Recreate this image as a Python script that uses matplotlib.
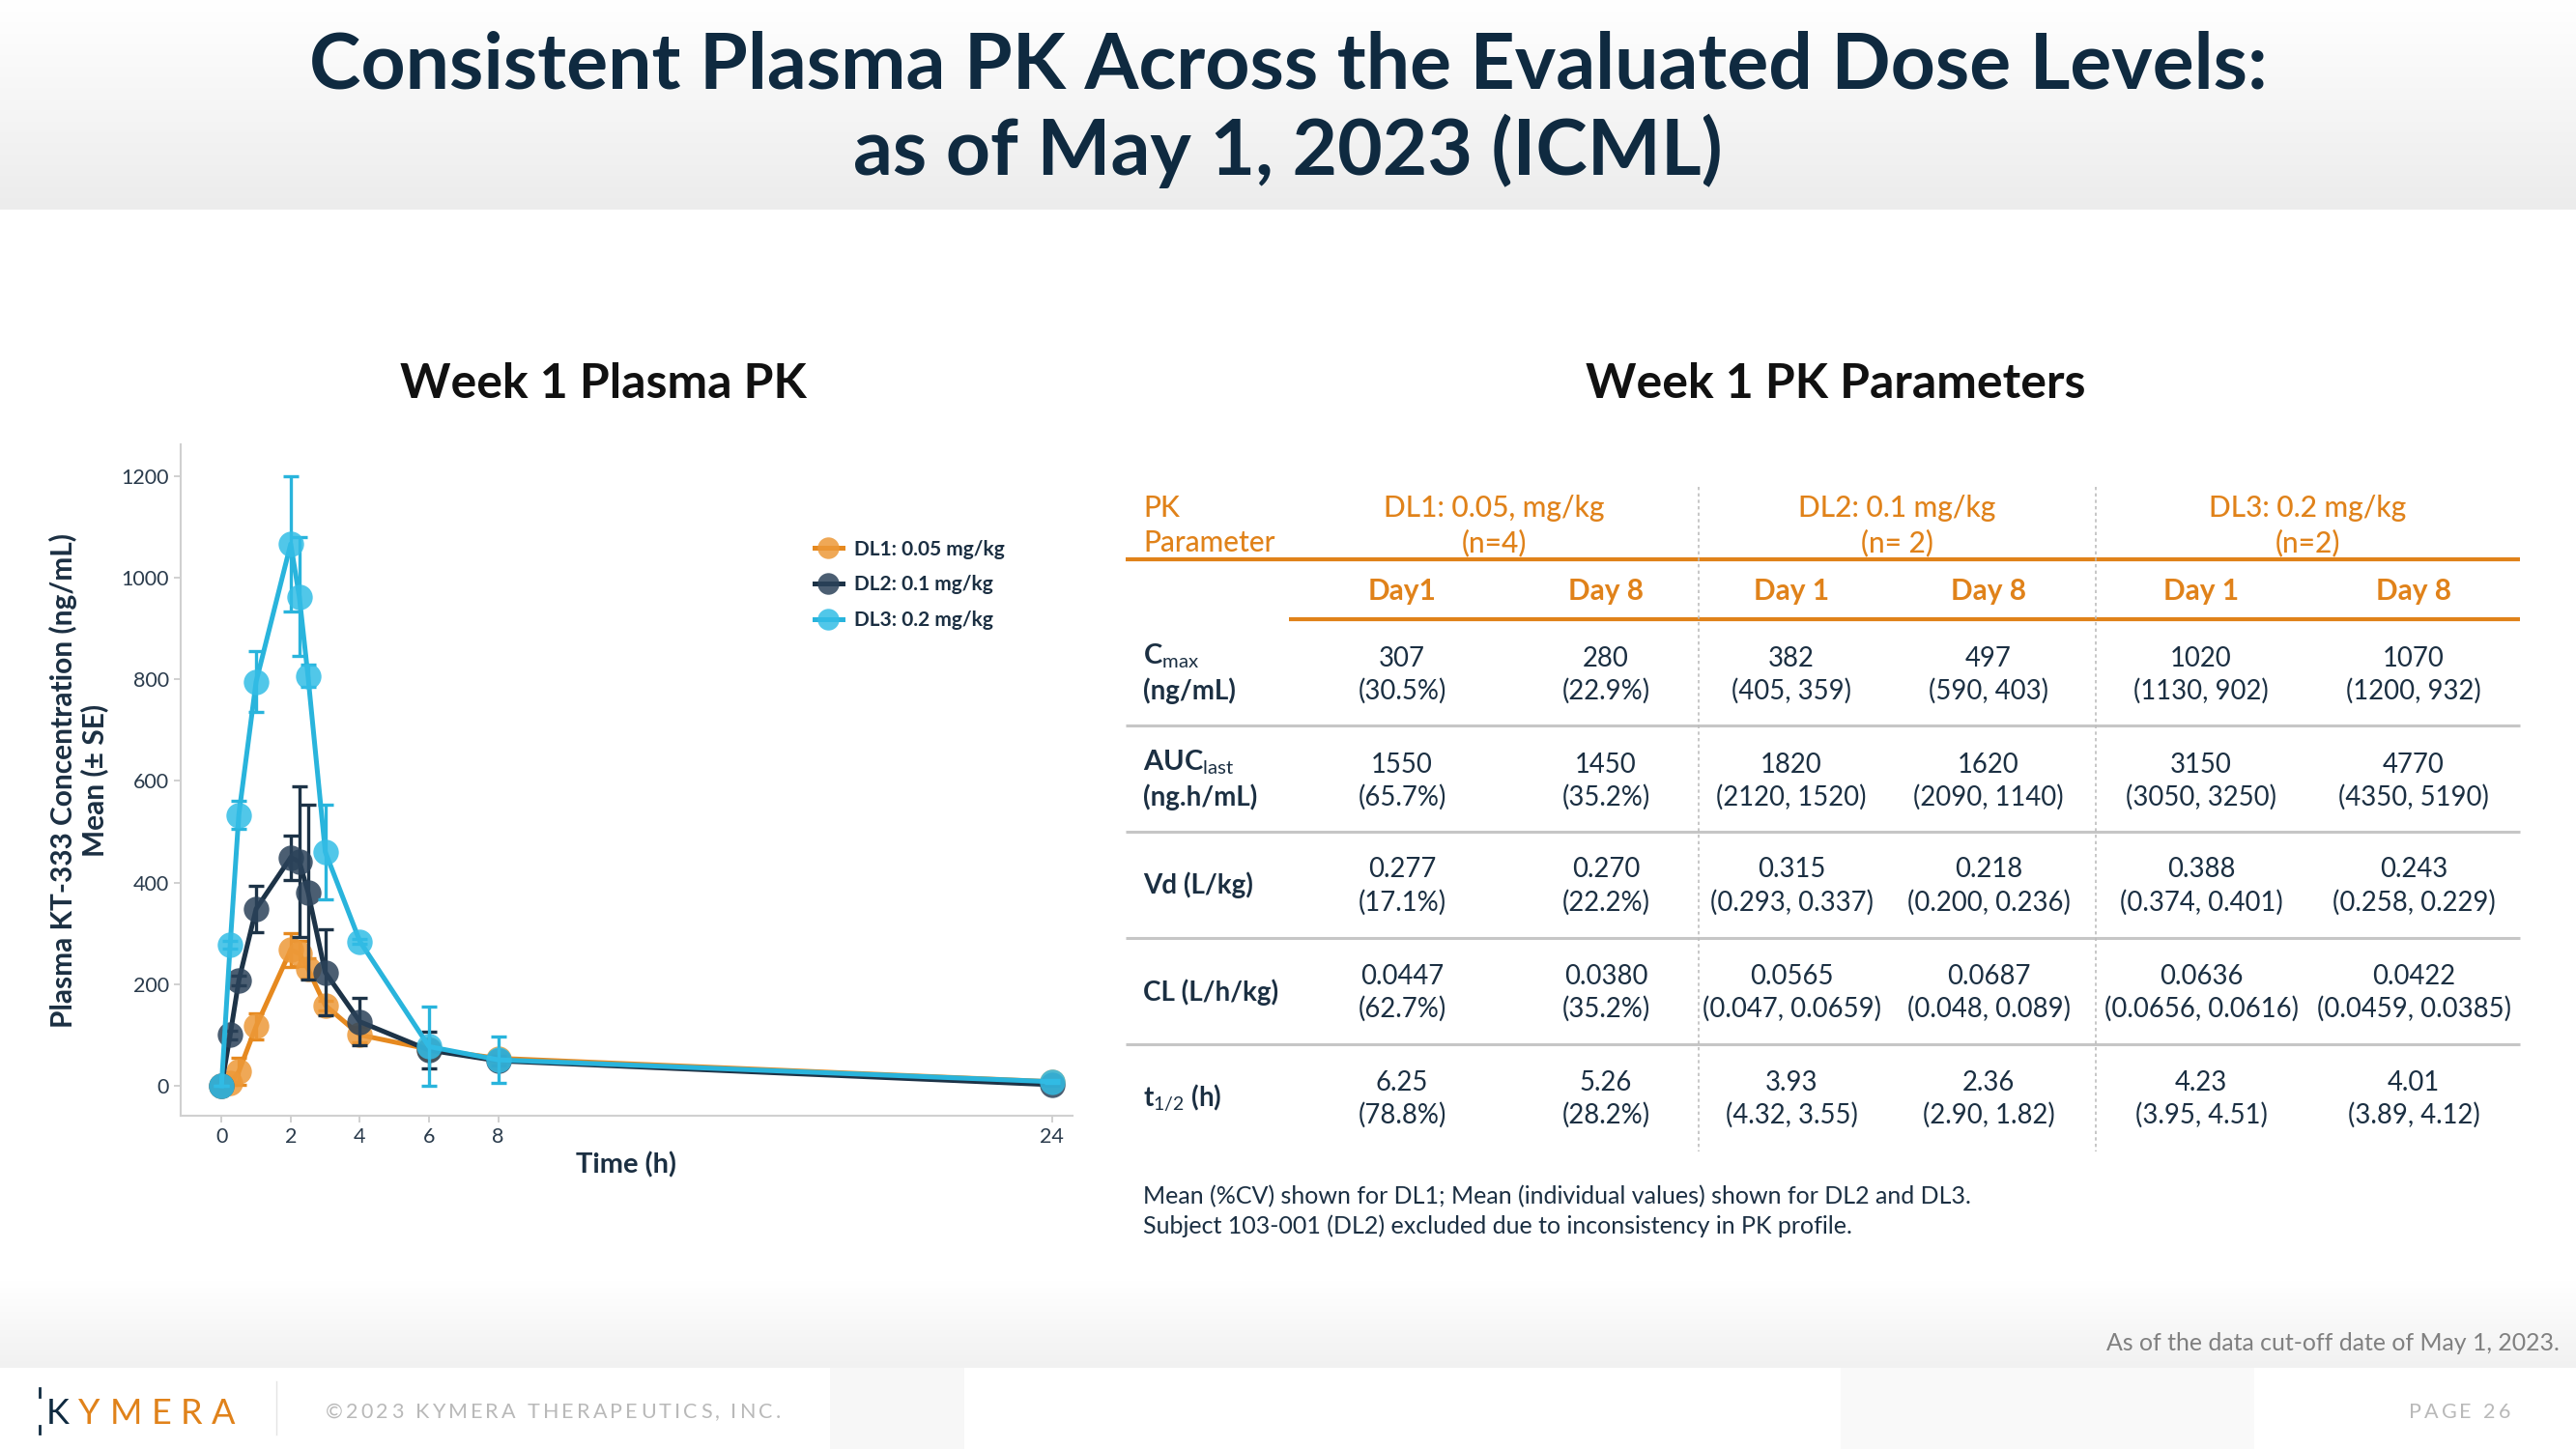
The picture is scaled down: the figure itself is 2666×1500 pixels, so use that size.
import matplotlib
matplotlib.use("Agg")
import matplotlib.pyplot as plt
import numpy as np
from matplotlib.colors import LinearSegmentedColormap
from matplotlib.textpath import TextToPath
from matplotlib.font_manager import FontProperties

plt.rcParams['font.family'] = ['Lato', 'DejaVu Sans']
plt.rcParams['mathtext.fontset'] = 'custom'
plt.rcParams['mathtext.rm'] = 'Lato'
plt.rcParams['mathtext.bf'] = 'Lato:bold'
plt.rcParams['mathtext.it'] = 'Lato:italic'

# ---- chart data ----
times = [0, 0.25, 0.5, 1, 2, 2.25, 2.5, 3, 4, 6, 8, 24]
dl1_mean = [0, 5, 28, 117, 267, 260, 230, 158, 100, 72, 54, 8]
dl1_se = [0, 3, 27, 26, 34, 25, 20, 10, 15, 8, 8, 2]
dl2_mean = [0, 100, 207, 348, 449, 441, 381, 223, 126, 70, 49, 2]
dl2_se = [0, 8, 10, 45, 44, 148, 172, 84, 46, 36, 10, 2]
dl3_mean = [0, 277, 533, 795, 1066, 962, 806, 460, 284, 77, 51, 8]
dl3_se = [0, 8, 28, 60, 133, 117, 22, 93, 5, 78, 46, 3]
series_labels = ['DL1: 0.05 mg/kg', 'DL2: 0.1 mg/kg', 'DL3: 0.2 mg/kg']
x_ticks = [0, 2, 4, 6, 8, 24]
y_ticks = [0, 200, 400, 600, 800, 1000, 1200]

# ---- table data ----
group_names = ['DL1: 0.05, mg/kg', 'DL2: 0.1 mg/kg', 'DL3: 0.2 mg/kg']
group_ns = ['(n=4)', '(n= 2)', '(n=2)']
day_names = ['Day1', 'Day 8', 'Day 1', 'Day 8', 'Day 1', 'Day 8']
param_names = [
    [r'$\mathbf{C}_{\mathrm{max}}$', '(ng/mL)'],
    [r'$\mathbf{AUC}_{\mathrm{last}}$', '(ng.h/mL)'],
    ['Vd (L/kg)'],
    ['CL (L/h/kg)'],
    [r'$\mathbf{t}_{\mathrm{1/2}}$ (h)'],
]
mean_vals = [
    ['307', '280', '382', '497', '1020', '1070'],
    ['1550', '1450', '1820', '1620', '3150', '4770'],
    ['0.277', '0.270', '0.315', '0.218', '0.388', '0.243'],
    ['0.0447', '0.0380', '0.0565', '0.0687', '0.0636', '0.0422'],
    ['6.25', '5.26', '3.93', '2.36', '4.23', '4.01'],
]
spread_vals = [
    ['(30.5%)', '(22.9%)', '(405, 359)', '(590, 403)', '(1130, 902)', '(1200, 932)'],
    ['(65.7%)', '(35.2%)', '(2120, 1520)', '(2090, 1140)', '(3050, 3250)', '(4350, 5190)'],
    ['(17.1%)', '(22.2%)', '(0.293, 0.337)', '(0.200, 0.236)', '(0.374, 0.401)', '(0.258, 0.229)'],
    ['(62.7%)', '(35.2%)', '(0.047, 0.0659)', '(0.048, 0.089)', '(0.0656, 0.0616)', '(0.0459, 0.0385)'],
    ['(78.8%)', '(28.2%)', '(4.32, 3.55)', '(2.90, 1.82)', '(3.95, 4.51)', '(3.89, 4.12)'],
]
footnotes = ['Mean (%CV) shown for DL1; Mean (individual values) shown for DL2 and DL3.',
             'Subject 103-001 (DL2) excluded due to inconsistency in PK profile.']

NAVY = '#0f2a40'
TXT = '#1b2f42'
ORANGE = '#e0821a'
COLORS = ['#e6891f', '#1d3347', '#29b4dc']
MCOLORS = [(0.93, 0.6, 0.22, 0.85), (0.17, 0.26, 0.35, 0.85), (0.2, 0.74, 0.9, 0.85)]

W, H = 2666, 1500
fig = plt.figure(figsize=(W / 100, H / 100), dpi=100)

# background / overlay axes in pixel coordinates
bg = fig.add_axes([0, 0, 1, 1], zorder=0)
grad = np.linspace(0, 1, 256).reshape(-1, 1)
bg.imshow(grad, extent=[0, W, 217, 0], aspect='auto',
          cmap=LinearSegmentedColormap.from_list('t', ['#ffffff', '#ececec']))
bg.imshow(grad, extent=[0, W, 1416, 1326], aspect='auto',
          cmap=LinearSegmentedColormap.from_list('f', ['#ffffff', '#f1f1f1']))
bg.fill_between([859, 998], 1416, 1500, color='#f7f7f7', lw=0)
bg.fill_between([1905, 2333], 1416, 1500, color='#f9f9f9', lw=0)
bg.set_xlim(0, W)
bg.set_ylim(H, 0)
bg.axis('off')

# title
bg.text(W / 2, 68, 'Consistent Plasma PK Across the Evaluated Dose Levels:', ha='center',
        va='center', fontsize=58, fontweight='bold', color=NAVY)
bg.text(W / 2, 156, 'as of May 1, 2023 (ICML)', ha='center', va='center',
        fontsize=58, fontweight='bold', color=NAVY)

bg.text(624, 398, 'Week 1 Plasma PK', ha='center', va='center', fontsize=36,
        fontweight='bold', color='#111111')
bg.text(1900, 398, 'Week 1 PK Parameters', ha='center', va='center', fontsize=36,
        fontweight='bold', color='#111111')

# ---- chart ----
ax = fig.add_axes([187 / W, (H - 1155) / H, (1110 - 187) / W, (1155 - 460) / H], zorder=2)
ax.patch.set_alpha(0)
for i, (m, s) in enumerate([(dl1_mean, dl1_se), (dl2_mean, dl2_se), (dl3_mean, dl3_se)]):
    ax.errorbar(times, m, yerr=s, fmt='none', ecolor=COLORS[i], elinewidth=2.4,
                capsize=6, capthick=2.4, zorder=2 + i)
    ax.plot(times, m, '-o', color=COLORS[i], lw=3.6, ms=19, mfc=MCOLORS[i], mec='none',
            label=series_labels[i], zorder=2 + i)

ax.set_xlim(-1.18, 24.6)
ax.set_ylim(-59, 1262)
ax.set_xticks(x_ticks)
ax.set_yticks(y_ticks)
for sp in ['top', 'right']:
    ax.spines[sp].set_visible(False)
for sp in ['left', 'bottom']:
    ax.spines[sp].set_color('#d0d0d0')
    ax.spines[sp].set_linewidth(1.5)
ax.tick_params(color='#c8c8c8', length=5, width=1.2, labelsize=15.5)
for lab in ax.get_xticklabels() + ax.get_yticklabels():
    lab.set_color('#2a3b4c')
ax.set_xlabel('Time (h)', fontsize=21, fontweight='bold', color=TXT, labelpad=4)
ax.set_ylabel('Plasma KT-333 Concentration (ng/mL)\nMean (± SE)', fontsize=21.5,
              fontweight='bold', color=TXT, labelpad=10, linespacing=1.1)
ax.legend(loc='upper left', bbox_to_anchor=(824 / W, 1 - 540 / H),
          bbox_transform=fig.transFigure, frameon=False,
          prop={'weight': 'bold', 'size': 15}, handlelength=1.4, handletextpad=0.6,
          labelspacing=0.8, markerscale=0.85)
for t in ax.get_legend().get_texts():
    t.set_color(TXT)

# ---- table ----
col_x = [1451, 1662, 1854, 2058, 2278, 2498]
grp_x = [1546, 1963, 2388]
label_x = 1183
row_y1 = [682, 792, 900, 1011, 1121]
row_y2 = [715, 825, 934, 1044, 1154]
single_y = [916, 1027, 1137]
HDR = 21.5

bg.text(label_x, 526, 'PK', ha='left', va='center', fontsize=HDR, color=ORANGE, fontweight='medium')
bg.text(label_x, 562, 'Parameter', ha='left', va='center', fontsize=HDR, color=ORANGE,
        fontweight='medium')
for gx, gname, gn in zip(grp_x, group_names, group_ns):
    bg.text(gx, 526, gname, ha='center', va='center', fontsize=HDR, color=ORANGE, fontweight='medium')
    bg.text(gx, 562, gn, ha='center', va='center', fontsize=HDR, color=ORANGE, fontweight='medium')
for cx, d in zip(col_x, day_names):
    bg.text(cx, 612, d, ha='center', va='center', fontsize=HDR, color=ORANGE, fontweight='bold')

bg.plot([1165, 2608], [579, 579], color=ORANGE, lw=3, solid_capstyle='butt')
bg.plot([1334, 2608], [641, 641], color=ORANGE, lw=3, solid_capstyle='butt')
for gy in [751, 861, 971, 1081]:
    bg.plot([1165, 2608], [gy, gy], color='#c6c6c6', lw=2.2, solid_capstyle='butt')
for vx in [1758, 2169]:
    bg.plot([vx, vx], [504, 1192], color='#bdbdbd', lw=1.2, ls=(0, (2, 2)))

for r in range(len(mean_vals)):
    for c in range(6):
        bg.text(col_x[c], row_y1[r], mean_vals[r][c], ha='center', va='center',
                fontsize=19.8, color=TXT)
        bg.text(col_x[c], row_y2[r], spread_vals[r][c], ha='center', va='center',
                fontsize=19.8, color=TXT)
    names = param_names[r]
    if len(names) == 2:
        bg.text(label_x, row_y1[r] - 3, names[0], ha='left', va='center', fontsize=21,
                color=TXT, fontweight='bold')
        bg.text(label_x, row_y2[r], names[1], ha='left', va='center', fontsize=20,
                color=TXT, fontweight='bold')
    else:
        bg.text(label_x, single_y[r - 2], names[0], ha='left', va='center', fontsize=20,
                color=TXT, fontweight='bold')

bg.text(label_x, 1239, footnotes[0], ha='left', va='center', fontsize=18, color=TXT)
bg.text(label_x, 1269, footnotes[1], ha='left', va='center', fontsize=18, color=TXT)

# ---- footer ----
bg.text(2649, 1391, 'As of the data cut-off date of May 1, 2023.', ha='right', va='center',
        fontsize=17.9, color='#808080')


def spaced_text(x, y, s, size, spacing, color, ha='left', weight='normal'):
    prop = FontProperties(family=['Lato', 'DejaVu Sans'], size=size, weight=weight)
    t2p = TextToPath()
    widths = [t2p.get_text_width_height_descent(ch, prop, ismath=False)[0] * 100 / 72
              for ch in s]
    total = sum(widths) + spacing * (len(s) - 1)
    cx = x - total if ha == 'right' else x
    for ch, w in zip(s, widths):
        bg.text(cx, y, ch, ha='left', va='center', fontproperties=prop, color=color)
        cx += w + spacing
    return cx


spaced_text(337, 1462, '©2023 KYMERA THERAPEUTICS, INC.', 15.5, 3.2, '#b9b9b9')
spaced_text(2598, 1462, 'PAGE 26', 15.5, 3.2, '#b9b9b9', ha='right')
end = spaced_text(48, 1463, 'K', 26, 9.5, NAVY)
spaced_text(end, 1463, 'YMERA', 26, 9.5, ORANGE)
bg.plot([41, 41], [1437, 1446], color=NAVY, lw=2)
bg.plot([41, 41], [1476, 1484], color=NAVY, lw=2)
bg.plot([286, 286], [1430, 1485], color='#e4e4e4', lw=1)

fig.savefig('out.png', dpi=100)
